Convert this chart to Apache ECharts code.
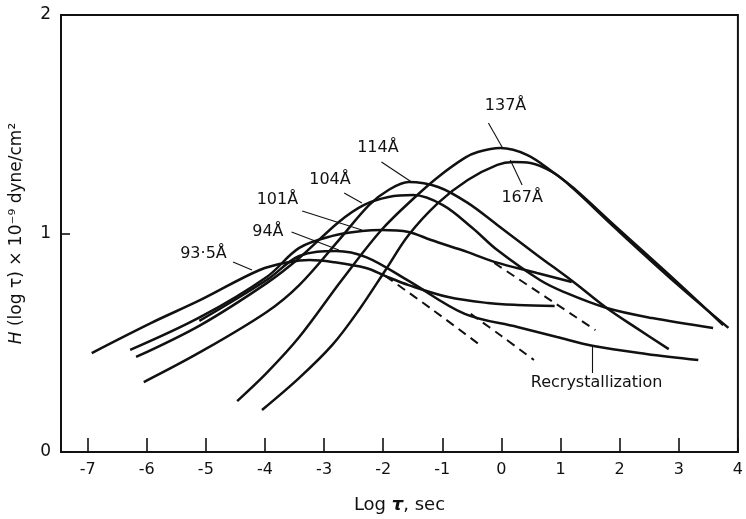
<!DOCTYPE html>
<html>
<head>
<meta charset="utf-8">
<script src="https://cdn.jsdelivr.net/npm/echarts@6/dist/echarts.min.js"></script>
<style>
  html, body { margin: 0; padding: 0; background: #fff; }
  #chart { width: 746px; height: 519px; }
</style>
</head>
<body>
<div id="chart"></div>
<script>
// Axis ticks
const xTicks = [-7, -6, -5, -4, -3, -2, -1, 0, 1, 2, 3, 4];
const yTicks = [0, 1, 2];

// Retardation spectra H(log tau) for each lamellar thickness
const logTau935 = [-6.93, -5.93, -5.09, -4.09, -3.58, -3.25, -2.86, -2.29, -1.96, -1.57, -0.90, -0.23, 0.27, 0.90];
const h935      = [0.453, 0.590, 0.696, 0.833, 0.870, 0.879, 0.870, 0.842, 0.805, 0.764, 0.709, 0.682, 0.673, 0.668];

const logTau94 = [-5.11, -3.97, -3.42, -2.80, -2.29, -1.57, -0.62, 0.27, 0.94, 1.56, 2.45, 3.33];
const h94      = [0.600, 0.787, 0.897, 0.920, 0.892, 0.783, 0.632, 0.572, 0.526, 0.485, 0.449, 0.421];

const logTau101 = [-6.28, -5.09, -3.97, -3.42, -2.86, -2.36, -2.03, -1.57, -1.19, -0.57, -0.12, 0.60, 1.19];
const h101      = [0.467, 0.618, 0.801, 0.934, 0.989, 1.011, 1.016, 1.007, 0.970, 0.915, 0.870, 0.819, 0.778];

const logTau104 = [-6.18, -5.09, -3.97, -3.42, -2.75, -2.33, -1.91, -1.49, -0.99, -0.49, -0.07, 0.65, 1.06, 1.78, 2.55, 3.58];
const h104      = [0.435, 0.581, 0.773, 0.888, 1.053, 1.130, 1.167, 1.176, 1.130, 1.025, 0.924, 0.787, 0.732, 0.659, 0.613, 0.568];

const logTau114 = [-6.05, -5.09, -3.97, -3.42, -2.75, -2.24, -1.91, -1.57, -1.07, -0.57, -0.07, 0.60, 1.22, 1.78, 2.28, 2.83];
const h114      = [0.320, 0.458, 0.641, 0.764, 0.970, 1.130, 1.199, 1.236, 1.213, 1.140, 1.039, 0.902, 0.778, 0.659, 0.568, 0.471];

const logTau137 = [-4.47, -3.97, -3.42, -2.70, -2.03, -1.46, -1.07, -0.62, -0.40, -0.02, 0.44, 0.89, 1.22, 1.94, 2.95, 3.75];
const h137      = [0.233, 0.362, 0.526, 0.787, 1.016, 1.167, 1.259, 1.346, 1.373, 1.391, 1.359, 1.277, 1.208, 1.030, 0.783, 0.581];

const logTau167 = [-4.05, -3.42, -2.86, -2.41, -1.96, -1.57, -1.07, -0.57, -0.07, 0.20, 0.49, 0.89, 1.22, 1.94, 2.95, 3.84];
const h167      = [0.192, 0.339, 0.490, 0.650, 0.833, 0.993, 1.140, 1.245, 1.314, 1.327, 1.323, 1.277, 1.204, 1.021, 0.773, 0.568];

// Dashed branches: spectra without the recrystallization contribution
const logTau935d = [-1.96, -1.16, -0.32];
const h935d      = [0.805, 0.650, 0.481];
const logTau94d  = [-0.52, 0.00, 0.55];
const h94d       = [0.632, 0.531, 0.421];
const logTau101d = [-0.12, 0.75, 1.59];
const h101d      = [0.865, 0.709, 0.558];

// Curve annotations and their leader lines
const labelText  = ['137Å', '114Å', '104Å', '101Å', '94Å', '93·5Å', '167Å', 'Recrystallization'];
const labelX     = [0.07, -2.09, -2.90, -3.79, -3.95, -5.04, 0.35, 1.61];
const labelY     = [1.584, 1.391, 1.245, 1.153, 1.007, 0.906, 1.162, 0.316];
const leaderFrom = [[-0.22, 1.506], [-2.03, 1.327], [-2.66, 1.185], [-3.37, 1.103], [-3.55, 1.007], [-4.54, 0.870], [0.35, 1.222], [1.53, 0.362]];
const leaderTo   = [[0.02, 1.391], [-1.52, 1.236], [-2.36, 1.140], [-2.36, 1.016], [-2.75, 0.924], [-4.22, 0.833], [0.15, 1.336], [1.53, 0.481]];

const INK = '#111';
const FONT = 'DejaVu Sans';

function pairs(xs, ys) { return xs.map((x, i) => [x, ys[i]]); }

function curve(name, xs, ys, dashed) {
  return {
    name: name,
    type: 'line',
    data: pairs(xs, ys),
    smooth: 0.35,
    showSymbol: false,
    silent: true,
    lineStyle: { color: INK, width: dashed ? 2 : 2.5, type: dashed ? [9, 6] : 'solid' },
    z: 3
  };
}

const chart = echarts.init(document.getElementById('chart'), null, { renderer: 'canvas' });

chart.setOption({
  backgroundColor: '#fff',
  animation: false,
  grid: {
    left: 60, right: 4, top: 15, bottom: 67,
    show: true, borderColor: INK, borderWidth: 2, backgroundColor: 'transparent'
  },
  xAxis: {
    type: 'value',
    min: -7.45, max: 4,
    name: 'Log {t|τ}, sec',
    nameLocation: 'middle',
    nameGap: 44,
    nameTextStyle: {
      fontFamily: FONT, fontSize: 18, color: INK,
      rich: { t: { fontFamily: FONT, fontSize: 18, fontStyle: 'italic', fontWeight: 'bold', color: INK } }
    },
    axisLine: { show: true, onZero: false, lineStyle: { color: INK, width: 2 } },
    axisTick: { show: true, inside: true, length: 14, customValues: xTicks, lineStyle: { color: INK, width: 1.6 } },
    axisLabel: {
      show: true, customValues: xTicks, margin: 10,
      fontFamily: FONT, fontSize: 16, color: INK,
      formatter: v => (v < 0 ? '-' + Math.abs(v) : String(v))
    },
    splitLine: { show: false }
  },
  yAxis: {
    type: 'value',
    min: 0, max: 2, interval: 1,
    name: '{i|H} (log τ) × 10⁻⁹ dyne/cm²',
    nameLocation: 'middle',
    nameRotate: 90,
    nameGap: 36,
    nameTextStyle: {
      fontFamily: FONT, fontSize: 17, color: INK,
      rich: { i: { fontFamily: FONT, fontSize: 17, fontStyle: 'italic', color: INK } }
    },
    axisLine: { show: true, onZero: false, lineStyle: { color: INK, width: 2 } },
    axisTick: { show: true, inside: true, length: 9, customValues: yTicks, lineStyle: { color: INK, width: 1.6 } },
    axisLabel: {
      show: true, customValues: yTicks, margin: 10,
      fontFamily: FONT, fontSize: 17, color: INK
    },
    splitLine: { show: false }
  },
  series: [
    curve('93·5Å', logTau935, h935),
    curve('94Å', logTau94, h94),
    curve('101Å', logTau101, h101),
    curve('104Å', logTau104, h104),
    curve('114Å', logTau114, h114),
    curve('137Å', logTau137, h137),
    curve('167Å', logTau167, h167),
    curve('93·5Å dashed', logTau935d, h935d, true),
    curve('94Å dashed', logTau94d, h94d, true),
    curve('101Å dashed', logTau101d, h101d, true),
    {
      name: 'leaders',
      type: 'lines',
      coordinateSystem: 'cartesian2d',
      silent: true,
      lineStyle: { color: INK, width: 1.1, opacity: 1 },
      data: leaderFrom.map((p, i) => ({ coords: [p, leaderTo[i]] })),
      z: 4
    },
    {
      name: 'labels',
      type: 'scatter',
      silent: true,
      symbolSize: 0,
      itemStyle: { opacity: 1, color: INK },
      data: labelText.map((t, i) => ({ name: t, value: [labelX[i], labelY[i]] })),
      label: {
        show: true,
        position: 'inside',
        formatter: p => p.name,
        fontFamily: FONT, fontSize: 16, color: INK, opacity: 1
      },
      z: 5
    }
  ]
});
</script>
</body>
</html>
